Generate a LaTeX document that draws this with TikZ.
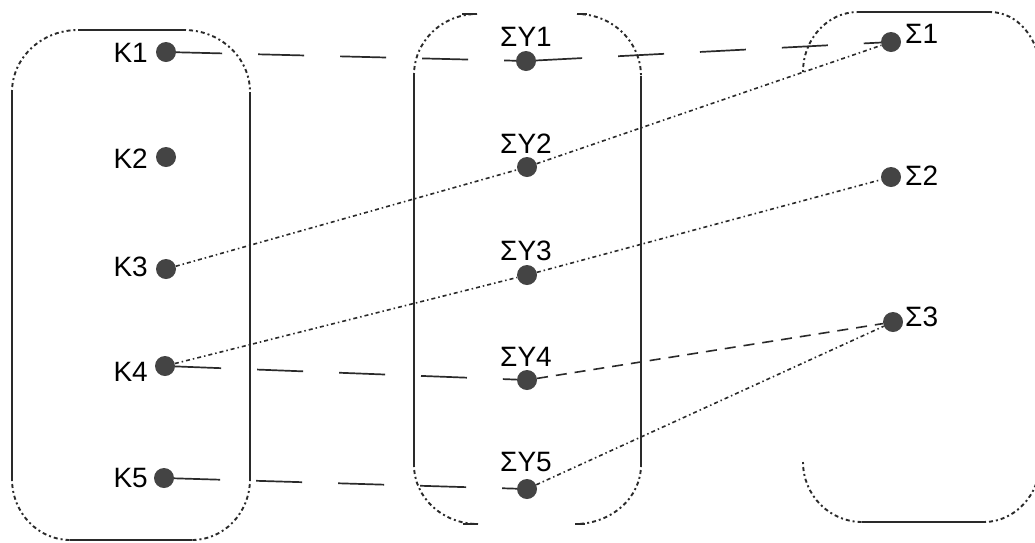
\documentclass[tikz,border=0pt]{standalone}
\usepackage{fontspec}
\setmainfont{Liberation Sans}
\definecolor{dotc}{HTML}{444444}
\definecolor{linec}{HTML}{2A2A2A}
\begin{document}
\begin{tikzpicture}[x=1pt,y=-1pt,
  pt/.style={circle, fill=dotc, draw=none, minimum size=20pt, inner sep=0pt},
  lab/.style={font=\fontsize{28}{30}\selectfont, inner sep=0pt, text=black},
  edgesolid/.style={line width=1.9pt, draw=linec},
  edgedot/.style={line width=1.9pt, draw=linec, dash pattern=on 2pt off 3pt on 4pt off 3pt},
  longdash/.style={line width=1.7pt, draw=linec, dash pattern=on 46pt off 36pt},
  meddash/.style={line width=1.6pt, draw=linec, dash pattern=on 11pt off 8pt},
  dotdash/.style={line width=1.6pt, draw=linec, dash pattern=on 4pt off 3pt on 1.5pt off 3pt}]
\useasboundingbox (0,0) rectangle (1035,542);
\clip (0,0) rectangle (1035,542);
\fill[white] (0,0) rectangle (1035,542);

% left box
\draw[edgesolid] (12,92) -- (12,479);
\draw[edgesolid] (250,92) -- (250,479);
\draw[edgesolid] (78,30) -- (184,30);
\draw[edgesolid] (70,540) -- (192,540);
\draw[edgedot] (12,92) .. controls (12,57.8) and (41.6,30) .. (78,30);
\draw[edgedot] (184,30) .. controls (220.4,30) and (250,57.8) .. (250,92);
\draw[edgedot] (12,479) .. controls (12,512.7) and (38,540) .. (70,540);
\draw[edgedot] (250,479) .. controls (250,512.7) and (224,540) .. (192,540);

% middle box
\draw[edgesolid] (414,75) -- (414,465);
\draw[edgesolid] (641,76) -- (641,465);
\draw[edgedot] (414,75) .. controls (414,41.3) and (442.2,14) .. (477,14);
\draw[edgedot] (577,14) .. controls (612.3,14) and (641,41.9) .. (641,76);
\draw[edgedot] (414,465) .. controls (414,497.6) and (442.7,524) .. (478,524);
\draw[edgedot] (641,465) .. controls (641,497.6) and (611.4,524) .. (575,524);
\draw[edgesolid] (462,14) -- (477,14);
\draw[edgesolid] (577,14) -- (587,14);
\draw[edgesolid] (463,524) -- (478,524);
\draw[edgesolid] (575,524) -- (585,524);

% right box
\draw[edgedot] (803,72) .. controls (803,38.9) and (827.6,12) .. (858,12);
\draw[edgesolid] (858,12) -- (990,12);
\draw[edgedot] (990,12) .. controls (1017.6,12) and (1040,38.9) .. (1040,72);
\draw[edgesolid] (1040,72) -- (1040,462);
\draw[edgedot] (803,462) .. controls (803,495.1) and (829.4,522) .. (862,522);
\draw[edgesolid] (862,522) -- (984,522);
\draw[edgedot] (984,522) .. controls (1014.4,522) and (1040,495.1) .. (1040,462);

% dots
\node[pt] (k1) at (166,52) {};
\node[pt] (k2) at (166,157) {};
\node[pt] (k3) at (166,269) {};
\node[pt] (k4) at (165,366) {};
\node[pt] (k5) at (164,478) {};
\node[pt] (y1) at (526,61) {};
\node[pt] (y2) at (527,167) {};
\node[pt] (y3) at (527,275) {};
\node[pt] (y4) at (527,380) {};
\node[pt] (y5) at (527,489) {};
\node[pt] (s1) at (891,42) {};
\node[pt] (s2) at (891,177) {};
\node[pt] (s3) at (893,322) {};

% labels
\node[lab, anchor=east] (lk1) at (148,53) {Κ1};
\node[lab, anchor=east] (lk2) at (148,159) {Κ2};
\node[lab, anchor=east] (lk3) at (148,267) {Κ3};
\node[lab, anchor=east] (lk4) at (148,372) {Κ4};
\node[lab, anchor=east] (lk5) at (148,478) {Κ5};
\node[lab] (ly1) at (526,37) {ΣΥ1};
\node[lab] (ly2) at (526,144) {ΣΥ2};
\node[lab] (ly3) at (526,251) {ΣΥ3};
\node[lab] (ly4) at (526,357) {ΣΥ4};
\node[lab] (ly5) at (526,462) {ΣΥ5};
\node[lab, anchor=west] (ls1) at (905,34) {Σ1};
\node[lab, anchor=west] (ls2) at (905,176) {Σ2};
\node[lab, anchor=west] (ls3) at (905,317) {Σ3};

% connectors
\draw[longdash] (k1) -- (y1);
\draw[longdash] (y1) -- (s1);
\draw[longdash] (k4) -- (y4);
\draw[longdash] (k5) -- (y5);
\draw[dotdash] (k3) -- (y2);
\draw[dotdash] (y2) -- (s1);
\draw[dotdash] (k4) -- (y3);
\draw[dotdash] (y3) -- (s2);
\draw[meddash] (y4) -- (s3);
\draw[dotdash] (y5) -- (s3);
\end{tikzpicture}
\end{document}
